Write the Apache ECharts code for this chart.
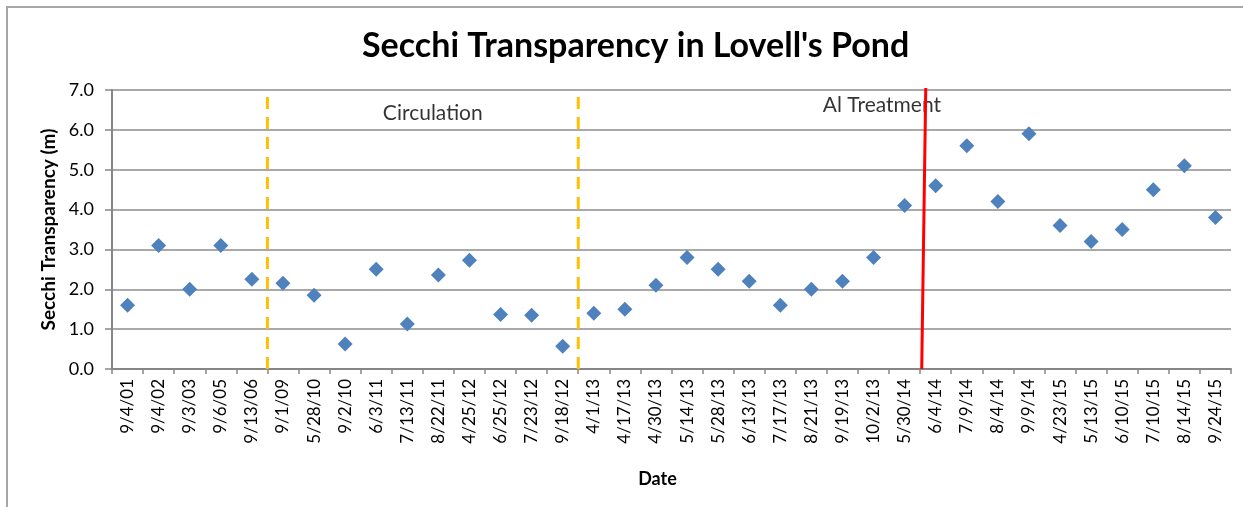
<!DOCTYPE html>
<html>
<head>
<meta charset="utf-8">
<script src="https://cdn.jsdelivr.net/npm/echarts@6/dist/echarts.min.js"></script>
<style>
  html, body { margin: 0; padding: 0; background: #fff; }
  #chart { width: 1243px; height: 507px; }
  #frame {
    position: absolute; left: 6px; top: 6px; width: 1300px; height: 600px;
    border-left: 2px solid #a6a6a6; border-top: 2px solid #a6a6a6;
    pointer-events: none;
  }
</style>
</head>
<body>
<div id="chart"></div>
<div id="frame"></div>
<script>
const dates = [
  '9/4/01', '9/4/02', '9/3/03', '9/6/05', '9/13/06', '9/1/09', '5/28/10', '9/2/10',
  '6/3/11', '7/13/11', '8/22/11', '4/25/12', '6/25/12', '7/23/12', '9/18/12', '4/1/13',
  '4/17/13', '4/30/13', '5/14/13', '5/28/13', '6/13/13', '7/17/13', '8/21/13', '9/19/13',
  '10/2/13', '5/30/14', '6/4/14', '7/9/14', '8/4/14', '9/9/14', '4/23/15', '5/13/15',
  '6/10/15', '7/10/15', '8/14/15', '9/24/15'
]
const secchi = [
  1.6, 3.1, 2.0, 3.1, 2.25, 2.15, 1.85, 0.63,
  2.5, 1.13, 2.36, 2.73, 1.37, 1.35, 0.57, 1.4,
  1.5, 2.1, 2.8, 2.5, 2.2, 1.6, 2.0, 2.2,
  2.8, 4.1, 4.6, 5.6, 4.2, 5.9, 3.6, 3.2,
  3.5, 4.5, 5.1, 3.8
]
// period boundaries, in category units (0 = left edge of the plot)
const circulationStart = [[5, 0], [5, 7]]
const circulationEnd = [[15, 0], [15, 7]]
const treatmentLine = [[26.05, 0], [26.18, 7.05]]
const notes = [
  { name: 'Circulation', value: [10.32, 6.42] },
  { name: 'Al Treatment', value: [24.77, 6.63] }
]

const font = 'Lato, "Open Sans", sans-serif'
const myChart = echarts.init(document.getElementById('chart'))

const option = {
  animation: false,
  title: {
    text: "Secchi Transparency in Lovell's Pond",
    left: 357,
    top: 24,
    textStyle: { fontFamily: font, fontSize: 34, fontWeight: 'bold', color: '#000' }
  },
  grid: { left: 112, right: 12, top: 90, bottom: 138 },
  xAxis: [
    {
      type: 'category',
      data: dates,
      name: 'Date',
      nameLocation: 'middle',
      nameGap: 101,
      nameTextStyle: { fontFamily: font, fontSize: 18, fontWeight: 'bold', color: '#000', padding: [0, 28, 0, 0] },
      axisLine: { lineStyle: { color: '#868686', width: 2 } },
      axisTick: { show: true, length: 5, lineStyle: { color: '#868686', width: 1.5 } },
      axisLabel: { rotate: 90, fontFamily: font, fontSize: 17, color: '#000', margin: 10, interval: 0 },
      splitLine: { show: false }
    },
    {
      type: 'value',
      min: 0,
      max: 36,
      show: false
    }
  ],
  yAxis: {
    type: 'value',
    min: 0,
    max: 7,
    interval: 1,
    name: 'Secchi Transparency (m)',
    nameLocation: 'middle',
    nameGap: 52,
    nameTextStyle: { fontFamily: font, fontSize: 19, fontWeight: 'bold', color: '#000' },
    axisLine: { show: true, lineStyle: { color: '#868686', width: 2 } },
    axisTick: { show: true, length: 7, lineStyle: { color: '#868686', width: 1.5 } },
    axisLabel: {
      fontFamily: font, fontSize: 18, color: '#000', margin: 18,
      formatter: (v) => v.toFixed(1)
    },
    splitLine: { lineStyle: { color: '#8c8c8c', width: 1.5 } }
  },
  series: [
    {
      type: 'scatter',
      data: secchi,
      symbol: 'diamond',
      symbolSize: 15,
      itemStyle: { color: '#4F81BD', opacity: 1 },
      z: 5
    },
    {
      type: 'line',
      xAxisIndex: 1,
      data: circulationStart,
      symbol: 'none',
      lineStyle: { color: '#FFC000', width: 3, type: [12, 8] }
    },
    {
      type: 'line',
      xAxisIndex: 1,
      data: circulationEnd,
      symbol: 'none',
      lineStyle: { color: '#FFC000', width: 3, type: [12, 8] }
    },
    {
      type: 'line',
      xAxisIndex: 1,
      data: treatmentLine,
      symbol: 'none',
      clip: false,
      lineStyle: { color: '#FF0000', width: 3 },
      z: 6
    },
    {
      type: 'scatter',
      xAxisIndex: 1,
      data: notes,
      symbolSize: 0,
      label: {
        show: true,
        position: 'inside',
        formatter: '{b}',
        fontFamily: font,
        fontSize: 21,
        color: '#000'
      },
      z: 4
    }
  ]
}
myChart.setOption(option)
</script>
</body>
</html>
